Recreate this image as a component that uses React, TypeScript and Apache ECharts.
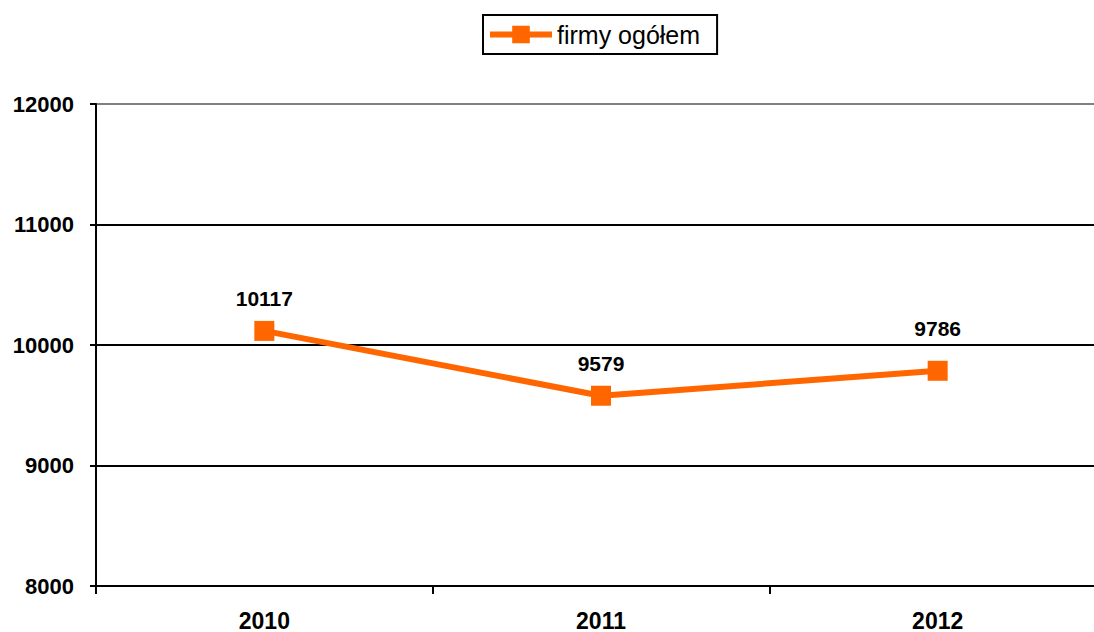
import React, { useEffect, useRef } from "react";
import * as echarts from "echarts";

const categories = ["2010", "2011", "2012"];
const seriesName = "firmy ogółem";
const values = [10117, 9579, 9786];
const labelDistances = [12, 12, 22];
const yMin = 8000;
const yMax = 12000;
const yInterval = 1000;

const FONT = "'Liberation Sans', Arial, sans-serif";

export default function App() {
  const ref = useRef<HTMLDivElement>(null);
  useEffect(() => {
    if (!ref.current) return;
    const chart = echarts.init(ref.current, undefined, { renderer: "svg" });
    chart.setOption({
      animation: false,
      backgroundColor: "#ffffff",
      legend: {
        left: 483,
        top: 15,
        padding: [7, 17, 7, 4],
        borderColor: "#000",
        borderWidth: 2,
        itemWidth: 62,
        itemHeight: 22,
        lineStyle: { width: 6 },
        textStyle: { fontFamily: FONT, fontSize: 25, color: "#000" },
        data: [{ name: seriesName }],
      },
      grid: { left: 96, top: 104, right: 0, bottom: 46, containLabel: false },
      xAxis: {
        type: "category",
        data: categories,
        boundaryGap: true,
        axisLine: { show: true, lineStyle: { color: "#000", width: 2 } },
        axisTick: { show: true, length: 8, lineStyle: { color: "#000", width: 2 } },
        axisLabel: {
          margin: 23,
          fontFamily: FONT,
          fontSize: 23,
          fontWeight: "bold",
          color: "#000",
        },
      },
      yAxis: {
        type: "value",
        min: yMin,
        max: yMax,
        interval: yInterval,
        axisLine: { show: true, lineStyle: { color: "#000", width: 2 } },
        axisTick: { show: true, length: 6, lineStyle: { color: "#000", width: 2 } },
        splitLine: {
          show: true,
          lineStyle: { color: ["#000", "#000", "#000", "#000", "#808080"], width: 2 },
        },
        axisLabel: {
          margin: 22,
          fontFamily: FONT,
          fontSize: 22,
          fontWeight: "bold",
          color: "#000",
          formatter: (v: number) => String(v),
        },
      },
      series: [
        {
          name: seriesName,
          type: "line",
          data: values.map((v, i) => ({ value: v, label: { distance: labelDistances[i] } })),
          symbol: "rect",
          symbolSize: 20,
          itemStyle: { color: "#FF6600" },
          lineStyle: { color: "#FF6600", width: 6 },
          label: {
            show: true,
            position: "top",
            distance: 12,
            fontFamily: FONT,
            fontSize: 21,
            fontWeight: "bold",
            color: "#000",
          },
        },
      ],
    });
    return () => chart.dispose();
  }, []);
  return (
    <div style={{ position: "absolute", left: 0, top: 0, width: 1094, height: 632, overflow: "hidden" }}>
      <div ref={ref} style={{ width: 1106, height: 632 }} />
    </div>
  );
}
